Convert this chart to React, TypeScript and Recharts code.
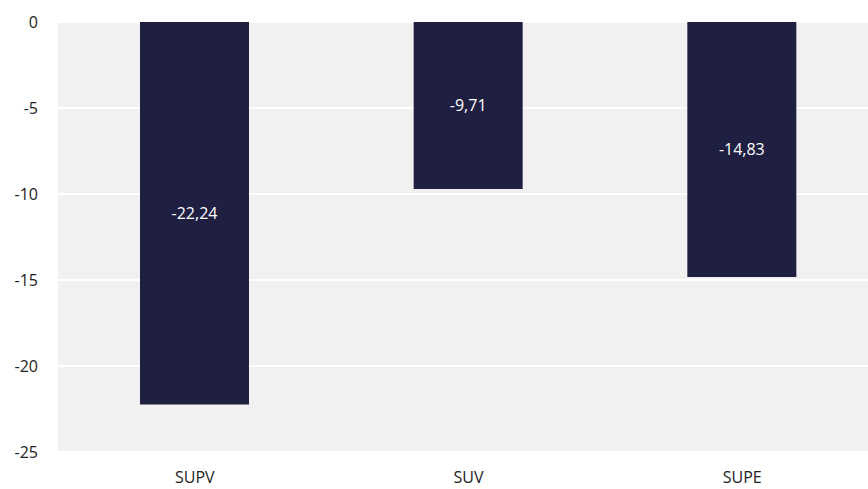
import { BarChart, Bar, XAxis, YAxis, CartesianGrid, LabelList } from 'recharts';

const categories = ['SUPV', 'SUV', 'SUPE'];
const values = [-22.24, -9.71, -14.83];
const yTicks = [0, -5, -10, -15, -20, -25];

const chartData = categories.map((name, i) => ({ name, value: values[i] }));

const fmt = (v: number) => v.toFixed(2).replace('.', ',');

export default function App() {
  const font = "'Segoe UI', 'Open Sans', 'Noto Sans', sans-serif";
  // plot runs a little past the right edge, so clip it
  return (
    <div style={{ position: 'absolute', left: 0, top: 0, width: 868, height: 489, overflow: 'hidden', background: '#fff' }}>
      <BarChart
        width={879}
        height={489}
        data={chartData}
        margin={{ top: 22, right: 0, bottom: 0, left: 0 }}
      >
        <CartesianGrid vertical={false} fill="#f1f1f1" stroke="#ffffff" strokeWidth={2} />
        <XAxis
          dataKey="name"
          axisLine={false}
          tickLine={false}
          height={37}
          tickMargin={14}
          tick={{ fill: '#222', fontSize: 16, fontFamily: font }}
        />
        <YAxis
          domain={[-25, 0]}
          ticks={yTicks}
          axisLine={false}
          tickLine={false}
          width={58}
          tickMargin={14}
          tick={{ fill: '#222', fontSize: 16, fontFamily: font }}
        />
        <Bar dataKey="value" fill="#1f2041" barSize={109} isAnimationActive={false}>
          <LabelList
            dataKey="value"
            position="center"
            formatter={(v: number) => fmt(v)}
            fill="#ffffff"
            fontSize={16}
            fontFamily={font}
          />
        </Bar>
      </BarChart>
    </div>
  );
}
